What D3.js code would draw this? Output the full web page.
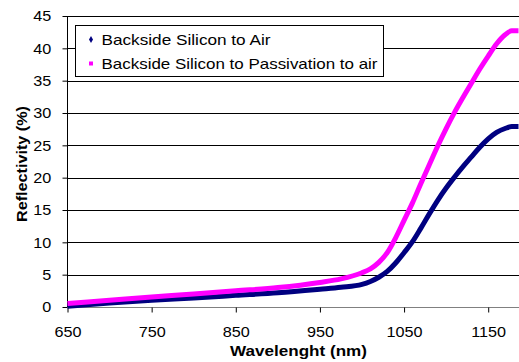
<!DOCTYPE html>
<html>
<head>
<meta charset="utf-8">
<script src="https://cdn.jsdelivr.net/npm/d3@7"></script>
<style>
  html, body { margin: 0; padding: 0; background: #fff; }
  svg { display: block; }
  text { font-family: "Liberation Sans", Arial, sans-serif; }
</style>
</head>
<body>
<svg id="chart" width="519" height="362"></svg>
<script>
const wavelengths = [650, 700, 750, 800, 850, 900, 950, 975, 1000, 1010, 1020, 1030, 1040, 1050, 1060, 1070, 1080, 1090, 1100, 1110, 1120, 1130, 1140, 1150, 1160, 1170, 1178, 1186];
const siliconToAir = [0.1, 0.6, 1.05, 1.4, 1.8, 2.2, 2.75, 3.05, 3.5, 3.95, 4.6, 5.5, 6.8, 8.4, 10.1, 12.2, 14.4, 16.5, 18.4, 20.1, 21.7, 23.2, 24.7, 26.0, 27.0, 27.6, 27.9, 27.9];
const siliconToPassivation = [0.55, 1.05, 1.55, 2.0, 2.5, 3.0, 3.8, 4.35, 5.3, 5.9, 6.9, 8.4, 10.7, 13.4, 16.1, 19.1, 22.0, 24.9, 27.6, 30.1, 32.4, 34.6, 36.8, 38.8, 40.7, 42.1, 42.7, 42.7];
const xTicks = [650, 750, 850, 950, 1050, 1150];
const yTicks = [0, 5, 10, 15, 20, 25, 30, 35, 40, 45];
const seriesNames = ["Backside Silicon to Air", "Backside Silicon to Passivation to air"];
const seriesColors = ["#000080", "#FF00FF"];

const svg = d3.select("#chart");
const x = d3.scaleLinear().domain([650, 1186]).range([67.5, 518.5]);
const y = d3.scaleLinear().domain([0, 45]).range([307, 16]);
const stretch = 1.08;

// gridlines
svg.append("g").selectAll("line").data(yTicks.filter(d => d > 0)).join("line")
  .attr("x1", x(650)).attr("x2", 519)
  .attr("y1", d => Math.round(y(d)) + 0.5).attr("y2", d => Math.round(y(d)) + 0.5)
  .attr("stroke", "#000").attr("stroke-width", 1);

// y axis
const yAxis = d3.axisLeft(y).tickValues(yTicks).tickSize(5).tickPadding(10).tickFormat(d3.format("d"));
const gy = svg.append("g").attr("transform", "translate(67.5,0)").call(yAxis);
gy.select(".domain").attr("stroke", "#000").attr("d", `M0,${y(45)}V${y(0)}`);
gy.selectAll(".tick line").attr("stroke", "#000");
gy.selectAll(".tick text").attr("font-size", 15).attr("fill", "#000")
  .attr("font-family", "Liberation Sans, Arial, sans-serif")
  .attr("transform", `scale(${stretch},1)`);

// x axis
const xAxis = d3.axisBottom(x).tickValues(xTicks).tickSize(5).tickPadding(14).tickFormat(d3.format("d"));
const gx = svg.append("g").attr("transform", `translate(0,${Math.round(y(0)) + 0.5})`).call(xAxis);
gx.select(".domain").attr("stroke", "#808080").attr("d", `M${x(650)},0H519`);
gx.selectAll(".tick line").attr("stroke", "#000");
gx.selectAll(".tick text").attr("font-size", 15).attr("fill", "#000")
  .attr("font-family", "Liberation Sans, Arial, sans-serif")
  .attr("transform", `scale(${stretch},1)`);

// lines
const line = d3.line().x(d => x(d[0])).y(d => y(d[1])).curve(d3.curveMonotoneX);
const series = [siliconToAir, siliconToPassivation];
series.forEach((vals, i) => {
  svg.append("path")
    .datum(wavelengths.map((w, j) => [w, vals[j]]))
    .attr("fill", "none")
    .attr("stroke", seriesColors[i])
    .attr("stroke-width", 5)
    .attr("stroke-linejoin", "round")
    .attr("d", line);
});

// axis titles
svg.append("text")
  .attr("transform", `translate(27,164) rotate(-90)`)
  .attr("text-anchor", "middle").attr("font-size", 15).attr("font-weight", "bold")
  .attr("textLength", 116).attr("lengthAdjust", "spacingAndGlyphs")
  .text("Reflectivity (%)");
svg.append("text")
  .attr("x", 298.5).attr("y", 356)
  .attr("text-anchor", "middle").attr("font-size", 14.5).attr("font-weight", "bold")
  .attr("textLength", 137).attr("lengthAdjust", "spacingAndGlyphs")
  .text("Wavelenght (nm)");

// legend
const lg = svg.append("g");
lg.append("rect").attr("x", 75.5).attr("y", 25.5).attr("width", 308).attr("height", 51)
  .attr("fill", "#fff").attr("stroke", "#000").attr("stroke-width", 1);
const legendY = [45, 69];
const legendLen = [169, 276];
seriesNames.forEach((name, i) => {
  if (i === 0) {
    lg.append("path").attr("d", d3.symbol().type(d3.symbolDiamond).size(14)())
      .attr("transform", `translate(91,${legendY[i] - 5.5})`).attr("fill", seriesColors[i]);
  } else {
    lg.append("rect").attr("x", 89).attr("y", legendY[i] - 7.5).attr("width", 4).attr("height", 4)
      .attr("fill", seriesColors[i]);
  }
  lg.append("text").attr("x", 101.5).attr("y", legendY[i])
    .attr("font-size", 15).attr("fill", "#000")
    .attr("textLength", legendLen[i]).attr("lengthAdjust", "spacingAndGlyphs")
    .text(name);
});
</script>
</body>
</html>
